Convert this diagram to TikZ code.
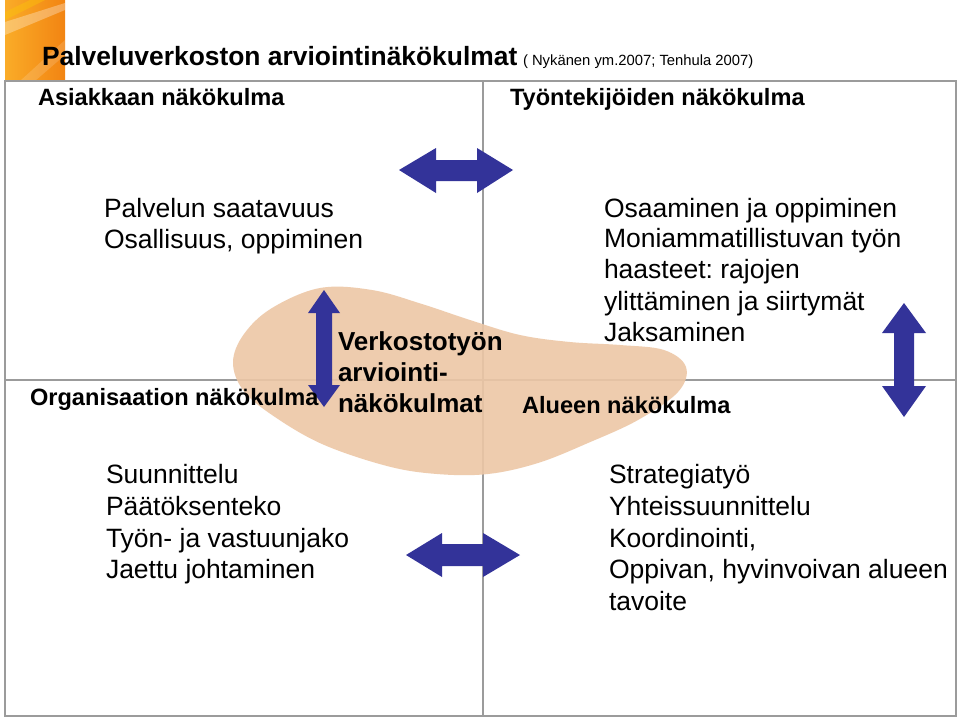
\documentclass[tikz,border=0pt]{standalone}
\usepackage{fontspec}
\setmainfont{Liberation Sans}
\frenchspacing
\definecolor{arrowblue}{RGB}{51,51,153}
\definecolor{blobfill}{RGB}{237,199,166}
\definecolor{gridgray}{RGB}{155,155,155}
\definecolor{orangeA}{RGB}{250,172,40}
\definecolor{orangeB}{RGB}{242,132,18}
\begin{document}
\begin{tikzpicture}[x=1pt,y=-1pt,
  txt/.style={anchor=base west,inner sep=0pt,outer sep=0pt},
  body/.style={txt,font=\fontsize{26.5}{31}\selectfont},
  head/.style={txt,font=\fontsize{23.6}{28}\selectfont\bfseries},
  cent/.style={txt,font=\fontsize{26}{31}\selectfont\bfseries},
  gridline/.style={draw=gridgray,line width=1.3pt},
  bigarrow/.style={fill=arrowblue}]
\useasboundingbox (0,0) rectangle (960,718);
\fill[white] (0,0) rectangle (960,718);
% orange corner square
\shade[left color=orangeA,right color=orangeB] (5,0) rectangle (65,81);
\fill[white,opacity=0.3] (5,22) -- (65,3) -- (65,10) -- (5,35) -- cycle;
\fill[yellow!60!orange,opacity=0.4] (30,0) -- (45,0) -- (5,20) -- (5,12) -- cycle;
\fill[white,opacity=0.15] (20,81) -- (65,40) -- (65,55) -- (35,81) -- cycle;
% grid
\coordinate (tl) at (5,81);
\coordinate (br) at (956,716);
\coordinate (mt) at (483,81);
\coordinate (mb) at (483,716);
\coordinate (ml) at (5,380);
\coordinate (mr) at (956,380);
\draw[gridline] (tl) rectangle (br);
\draw[gridline] (mt) -- (mb);
\draw[gridline] (ml) -- (mr);
% blob
\fill[blobfill,fill opacity=0.9] plot[smooth cycle,tension=0.6] coordinates {
 (233,362) (244,334) (272,308) (320,288) (372,290) (422,304) (470,320) (520,335)
 (570,342) (620,345) (664,350) (686,367) (678,392) (638,420) (588,443) (538,463)
 (488,474) (437,474) (387,466) (322,444) (272,415) (243,390)};
% arrows
\fill[bigarrow] (399,170) -- (436,148) -- (436,160) -- (477,160) -- (477,148) -- (513,170)
  -- (477,193) -- (477,181) -- (436,181) -- (436,193) -- cycle;
\fill[bigarrow] (406,555) -- (442,533) -- (442,544) -- (483,544) -- (483,533) -- (520,555)
  -- (483,577) -- (483,566) -- (442,566) -- (442,577) -- cycle;
\fill[bigarrow] (324,290) -- (340,313) -- (332,313) -- (332,385) -- (340,385) -- (324,407)
  -- (308,385) -- (316,385) -- (316,313) -- (308,313) -- cycle;
\fill[bigarrow] (904,303) -- (926,333) -- (914,333) -- (914,386) -- (926,386) -- (904,417)
  -- (882,386) -- (894,386) -- (894,333) -- (882,333) -- cycle;
% title
\node[txt,font=\fontsize{26.4}{30}\selectfont\bfseries] (title) at (42,65) {Palveluverkoston arviointinäkökulmat};
\node[txt,font=\fontsize{14.8}{17}\selectfont] (subtitle) at (523,65) {( Nykänen ym.2007; Tenhula 2007)};
% headings
\node[head] (hA) at (38,105) {Asiakkaan näkökulma};
\node[head] (hT) at (510,105) {Työntekijöiden näkökulma};
\node[head] (hO) at (30,405) {Organisaation näkökulma};
\node[head] (hAl) at (522,413) {Alueen näkökulma};
% centre
\node[cent] (c1) at (338,350) {Verkostotyön};
\node[cent] (c2) at (338,381) {arviointi-};
\node[cent] (c3) at (338,412) {näkökulmat};
% top left
\node[body] (tl1) at (104,217) {Palvelun saatavuus};
\node[body] (tl2) at (104,248) {Osallisuus, oppiminen};
% top right
\node[body] (tr1) at (604,217) {Osaaminen ja oppiminen};
\node[body] (tr2) at (604,247) {Moniammatillistuvan työn};
\node[body] (tr3) at (604,278) {haasteet: rajojen};
\node[body] (tr4) at (604,310) {ylittäminen ja siirtymät};
\node[body] (tr5) at (604,341) {Jaksaminen};
% bottom left
\node[body] (bl1) at (106,483) {Suunnittelu};
\node[body] (bl2) at (106,515) {Päätöksenteko};
\node[body] (bl3) at (106,547) {Työn- ja vastuunjako};
\node[body] (bl4) at (106,578) {Jaettu johtaminen};
% bottom right
\node[body] (br1) at (609,483) {Strategiatyö};
\node[body] (br2) at (609,515) {Yhteissuunnittelu};
\node[body] (br3) at (609,547) {Koordinointi,};
\node[body] (br4) at (609,578) {Oppivan, hyvinvoivan alueen};
\node[body] (br5) at (609,610) {tavoite};
\end{tikzpicture}
\end{document}
